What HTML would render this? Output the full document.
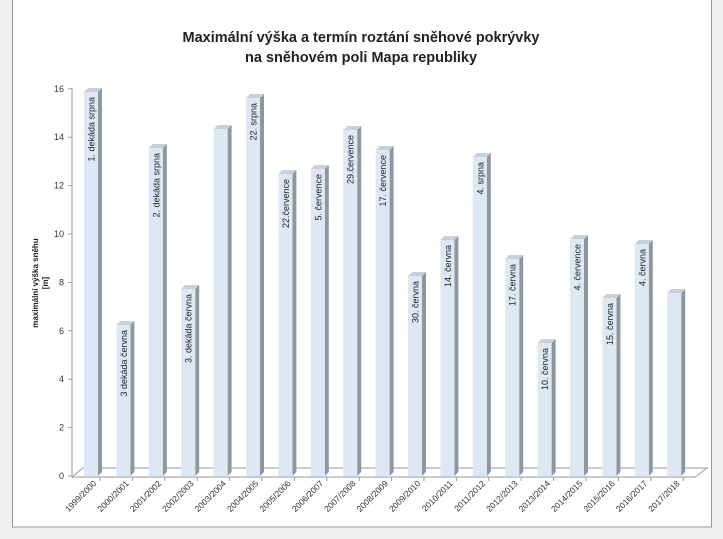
<!DOCTYPE html><html><head><style>body{margin:0;background:#efefef;}svg{display:block}</style></head><body>
<svg width="723" height="539" xmlns="http://www.w3.org/2000/svg" font-family="Liberation Sans, sans-serif">
<rect x="0" y="0" width="723" height="539" fill="#efefef"/>
<rect x="12.5" y="-1" width="699" height="528" fill="#fff" stroke="#999"/>
<text x="361" y="42" text-anchor="middle" font-size="14.5" font-weight="bold" fill="#222">Maximální výška a termín roztání sněhové pokrývky</text>
<text x="361" y="62" text-anchor="middle" font-size="14.5" font-weight="bold" fill="#222">na sněhovém poli Mapa republiky</text>
<text transform="translate(38,283) rotate(-90)" text-anchor="middle" font-size="8" font-weight="bold" fill="#222">maximální výška sněhu</text>
<text transform="translate(48,283) rotate(-90)" text-anchor="middle" font-size="8" font-weight="bold" fill="#222">[m]</text>
<g stroke="#999" fill="none">
<line x1="72" y1="88" x2="72" y2="477"/>
<polyline points="72,477 695,477 707,468 83,468 72,477"/>
<line x1="68" y1="476" x2="72" y2="476"/><line x1="68" y1="427.6" x2="72" y2="427.6"/><line x1="68" y1="379.2" x2="72" y2="379.2"/><line x1="68" y1="330.8" x2="72" y2="330.8"/><line x1="68" y1="282.4" x2="72" y2="282.4"/><line x1="68" y1="234" x2="72" y2="234"/><line x1="68" y1="185.6" x2="72" y2="185.6"/><line x1="68" y1="137.2" x2="72" y2="137.2"/><line x1="68" y1="88.8" x2="72" y2="88.8"/>
</g>
<g font-size="9" fill="#333" text-anchor="end">
<text x="64" y="479">0</text><text x="64" y="430.6">2</text><text x="64" y="382.2">4</text><text x="64" y="333.8">6</text><text x="64" y="285.4">8</text><text x="64" y="237">10</text><text x="64" y="188.6">12</text><text x="64" y="140.2">14</text><text x="64" y="91.8">16</text>
</g>
<defs>
<g id="tk"><line x1="16" y1="477" x2="16" y2="481" stroke="#999"/></g>
</defs>
<g font-size="9" fill="#222">
<!-- bar template: side, top, front, label -->
<g transform="translate(84,0)"><polygon points="14,92 18,88 18,472 14,476" fill="#8e979f"/><polygon points="0,92 4,88 18,88 14,92" fill="#c9d0d8"/><rect x="0" y="92" width="14" height="384" fill="#dce8f6"/><text transform="translate(10.5,97) rotate(-90)" text-anchor="end">1. dekáda srpna</text><use href="#tk"/><text transform="translate(13,484) rotate(-45)" text-anchor="end" font-size="8.5" fill="#333">1999/2000</text></g>
<g transform="translate(116.4,0)"><polygon points="14,325 18,321 18,472 14,476" fill="#8e979f"/><polygon points="0,325 4,321 18,321 14,325" fill="#c9d0d8"/><rect x="0" y="325" width="14" height="151" fill="#dce8f6"/><text transform="translate(10.5,330) rotate(-90)" text-anchor="end">3 dekáda června</text><use href="#tk"/><text transform="translate(13,484) rotate(-45)" text-anchor="end" font-size="8.5" fill="#333">2000/2001</text></g>
<g transform="translate(148.8,0)"><polygon points="14,148 18,144 18,472 14,476" fill="#8e979f"/><polygon points="0,148 4,144 18,144 14,148" fill="#c9d0d8"/><rect x="0" y="148" width="14" height="328" fill="#dce8f6"/><text transform="translate(10.5,153) rotate(-90)" text-anchor="end">2. dekáda srpna</text><use href="#tk"/><text transform="translate(13,484) rotate(-45)" text-anchor="end" font-size="8.5" fill="#333">2001/2002</text></g>
<g transform="translate(181.2,0)"><polygon points="14,289 18,285 18,472 14,476" fill="#8e979f"/><polygon points="0,289 4,285 18,285 14,289" fill="#c9d0d8"/><rect x="0" y="289" width="14" height="187" fill="#dce8f6"/><text transform="translate(10.5,294) rotate(-90)" text-anchor="end">3. dekáda června</text><use href="#tk"/><text transform="translate(13,484) rotate(-45)" text-anchor="end" font-size="8.5" fill="#333">2002/2003</text></g>
<g transform="translate(213.6,0)"><polygon points="14,129 18,125 18,472 14,476" fill="#8e979f"/><polygon points="0,129 4,125 18,125 14,129" fill="#c9d0d8"/><rect x="0" y="129" width="14" height="347" fill="#dce8f6"/><use href="#tk"/><text transform="translate(13,484) rotate(-45)" text-anchor="end" font-size="8.5" fill="#333">2003/2004</text></g>
<g transform="translate(246,0)"><polygon points="14,98 18,94 18,472 14,476" fill="#8e979f"/><polygon points="0,98 4,94 18,94 14,98" fill="#c9d0d8"/><rect x="0" y="98" width="14" height="378" fill="#dce8f6"/><text transform="translate(10.5,103) rotate(-90)" text-anchor="end">22. srpna</text><use href="#tk"/><text transform="translate(13,484) rotate(-45)" text-anchor="end" font-size="8.5" fill="#333">2004/2005</text></g>
<g transform="translate(278.4,0)"><polygon points="14,174 18,170 18,472 14,476" fill="#8e979f"/><polygon points="0,174 4,170 18,170 14,174" fill="#c9d0d8"/><rect x="0" y="174" width="14" height="302" fill="#dce8f6"/><text transform="translate(10.5,179) rotate(-90)" text-anchor="end">22.července</text><use href="#tk"/><text transform="translate(13,484) rotate(-45)" text-anchor="end" font-size="8.5" fill="#333">2005/2006</text></g>
<g transform="translate(310.8,0)"><polygon points="14,169 18,165 18,472 14,476" fill="#8e979f"/><polygon points="0,169 4,165 18,165 14,169" fill="#c9d0d8"/><rect x="0" y="169" width="14" height="307" fill="#dce8f6"/><text transform="translate(10.5,174) rotate(-90)" text-anchor="end">5. července</text><use href="#tk"/><text transform="translate(13,484) rotate(-45)" text-anchor="end" font-size="8.5" fill="#333">2006/2007</text></g>
<g transform="translate(343.2,0)"><polygon points="14,130 18,126 18,472 14,476" fill="#8e979f"/><polygon points="0,130 4,126 18,126 14,130" fill="#c9d0d8"/><rect x="0" y="130" width="14" height="346" fill="#dce8f6"/><text transform="translate(10.5,135) rotate(-90)" text-anchor="end">29.července</text><use href="#tk"/><text transform="translate(13,484) rotate(-45)" text-anchor="end" font-size="8.5" fill="#333">2007/2008</text></g>
<g transform="translate(375.6,0)"><polygon points="14,150 18,146 18,472 14,476" fill="#8e979f"/><polygon points="0,150 4,146 18,146 14,150" fill="#c9d0d8"/><rect x="0" y="150" width="14" height="326" fill="#dce8f6"/><text transform="translate(10.5,155) rotate(-90)" text-anchor="end">17. července</text><use href="#tk"/><text transform="translate(13,484) rotate(-45)" text-anchor="end" font-size="8.5" fill="#333">2008/2009</text></g>
<g transform="translate(408,0)"><polygon points="14,276 18,272 18,472 14,476" fill="#8e979f"/><polygon points="0,276 4,272 18,272 14,276" fill="#c9d0d8"/><rect x="0" y="276" width="14" height="200" fill="#dce8f6"/><text transform="translate(10.5,281) rotate(-90)" text-anchor="end">30. června</text><use href="#tk"/><text transform="translate(13,484) rotate(-45)" text-anchor="end" font-size="8.5" fill="#333">2009/2010</text></g>
<g transform="translate(440.4,0)"><polygon points="14,240 18,236 18,472 14,476" fill="#8e979f"/><polygon points="0,240 4,236 18,236 14,240" fill="#c9d0d8"/><rect x="0" y="240" width="14" height="236" fill="#dce8f6"/><text transform="translate(10.5,245) rotate(-90)" text-anchor="end">14. června</text><use href="#tk"/><text transform="translate(13,484) rotate(-45)" text-anchor="end" font-size="8.5" fill="#333">2010/2011</text></g>
<g transform="translate(472.8,0)"><polygon points="14,157 18,153 18,472 14,476" fill="#8e979f"/><polygon points="0,157 4,153 18,153 14,157" fill="#c9d0d8"/><rect x="0" y="157" width="14" height="319" fill="#dce8f6"/><text transform="translate(10.5,162) rotate(-90)" text-anchor="end">4. srpna</text><use href="#tk"/><text transform="translate(13,484) rotate(-45)" text-anchor="end" font-size="8.5" fill="#333">2011/2012</text></g>
<g transform="translate(505.2,0)"><polygon points="14,259 18,255 18,472 14,476" fill="#8e979f"/><polygon points="0,259 4,255 18,255 14,259" fill="#c9d0d8"/><rect x="0" y="259" width="14" height="217" fill="#dce8f6"/><text transform="translate(10.5,264) rotate(-90)" text-anchor="end">17. června</text><use href="#tk"/><text transform="translate(13,484) rotate(-45)" text-anchor="end" font-size="8.5" fill="#333">2012/2013</text></g>
<g transform="translate(537.6,0)"><polygon points="14,343 18,339 18,472 14,476" fill="#8e979f"/><polygon points="0,343 4,339 18,339 14,343" fill="#c9d0d8"/><rect x="0" y="343" width="14" height="133" fill="#dce8f6"/><text transform="translate(10.5,348) rotate(-90)" text-anchor="end">10. června</text><use href="#tk"/><text transform="translate(13,484) rotate(-45)" text-anchor="end" font-size="8.5" fill="#333">2013/2014</text></g>
<g transform="translate(570,0)"><polygon points="14,239 18,235 18,472 14,476" fill="#8e979f"/><polygon points="0,239 4,235 18,235 14,239" fill="#c9d0d8"/><rect x="0" y="239" width="14" height="237" fill="#dce8f6"/><text transform="translate(10.5,244) rotate(-90)" text-anchor="end">4. července</text><use href="#tk"/><text transform="translate(13,484) rotate(-45)" text-anchor="end" font-size="8.5" fill="#333">2014/2015</text></g>
<g transform="translate(602.4,0)"><polygon points="14,298 18,294 18,472 14,476" fill="#8e979f"/><polygon points="0,298 4,294 18,294 14,298" fill="#c9d0d8"/><rect x="0" y="298" width="14" height="178" fill="#dce8f6"/><text transform="translate(10.5,303) rotate(-90)" text-anchor="end">15. června</text><use href="#tk"/><text transform="translate(13,484) rotate(-45)" text-anchor="end" font-size="8.5" fill="#333">2015/2016</text></g>
<g transform="translate(634.8,0)"><polygon points="14,244 18,240 18,472 14,476" fill="#8e979f"/><polygon points="0,244 4,240 18,240 14,244" fill="#c9d0d8"/><rect x="0" y="244" width="14" height="232" fill="#dce8f6"/><text transform="translate(10.5,249) rotate(-90)" text-anchor="end">4. června</text><use href="#tk"/><text transform="translate(13,484) rotate(-45)" text-anchor="end" font-size="8.5" fill="#333">2016/2017</text></g>
<g transform="translate(667.2,0)"><polygon points="14,293 18,289 18,472 14,476" fill="#8e979f"/><polygon points="0,293 4,289 18,289 14,293" fill="#c9d0d8"/><rect x="0" y="293" width="14" height="183" fill="#dce8f6"/><use href="#tk"/><text transform="translate(13,484) rotate(-45)" text-anchor="end" font-size="8.5" fill="#333">2017/2018</text></g>
</g>
</svg></body></html>
